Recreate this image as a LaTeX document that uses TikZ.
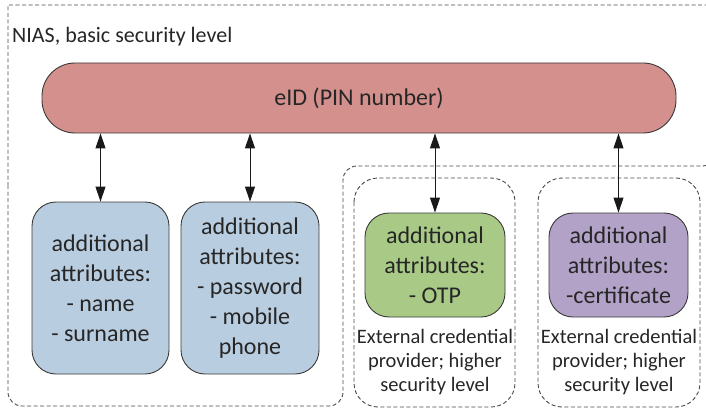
\documentclass[tikz,border=0pt]{standalone}
\usepackage{fontspec}
\setmainfont{Carlito}
\usetikzlibrary{arrows.meta}
\definecolor{txt}{HTML}{262626}
\definecolor{edge}{HTML}{3A3A3A}
\definecolor{dash}{HTML}{4A4A4A}
\definecolor{eidfill}{HTML}{D4908C}
\definecolor{bluefill}{HTML}{B9CDE0}
\definecolor{greenfill}{HTML}{A9CA86}
\definecolor{purplefill}{HTML}{B3A2C7}
\tikzset{
  attrbox/.style={draw=edge, line width=0.9pt, rounded corners=24pt, text=txt, align=center,
    inner sep=0pt, font=\fontsize{24}{30}\selectfont},
  dashline/.style={draw=dash, line width=0.9pt, dash pattern=on 4pt off 2.5pt},
  ext/.style={text=txt, align=center, inner sep=0pt, font=\fontsize{20.5}{24}\selectfont},
  conn/.style={draw=black!90, line width=1pt, {Triangle[length=15pt,width=10pt]}-{Triangle[length=15pt,width=10pt]}}
}
\begin{document}
\begin{tikzpicture}[x=1pt,y=-1pt]
\useasboundingbox (0,0) rectangle (706,409);
% outer region
\draw[dashline] (8,200) -- (8,5) -- (716,5) [rounded corners=14pt] -- (716,166) -- (343,166) -- (343,406) -- (8,406) -- cycle;
% inner dashed regions
\draw[dashline, rounded corners=24pt] (354,178) rectangle (515,407);
\draw[dashline, rounded corners=24pt] (538,178) rectangle (700,407);
\node[anchor=west, text=txt, inner sep=0pt, font=\fontsize{22}{27}\selectfont] (nias) at (12,37) {NIAS, basic security level};
\node[attrbox, fill=eidfill, rounded corners=33pt, minimum width=634pt, minimum height=70pt] (eid) at (359,98) {eID (PIN number)};
\node[attrbox, fill=bluefill, minimum width=137pt, minimum height=172pt] (b1) at (100.5,288) {additional\\attributes:\\- name\\- surname};
\node[attrbox, fill=bluefill, minimum width=138pt, minimum height=172pt] (b2) at (250,288) {additional\\attributes:\\- password\\- mobile\\phone};
\node[attrbox, fill=greenfill, minimum width=140pt, minimum height=104pt] (g) at (435,265) {additional\\attributes:\\- OTP};
\node[attrbox, fill=purplefill, minimum width=139pt, minimum height=104pt] (p) at (618.5,265) {additional\\attributes:\\-certificate};
\node[ext] (e1) at (435,362) {External credential\\provider; higher\\security level};
\node[ext] (e2) at (619,362) {External credential\\provider; higher\\security level};
\draw[conn] (eid.south -| b1.north) -- (b1.north);
\draw[conn] (eid.south -| b2.north) -- (b2.north);
\draw[conn] (eid.south -| g.north) -- (g.north);
\draw[conn] (eid.south -| p.north) -- (p.north);
\end{tikzpicture}
\end{document}
